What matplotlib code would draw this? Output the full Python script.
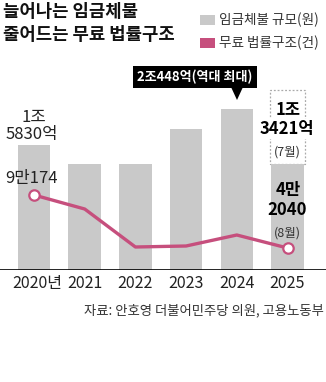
import matplotlib.pyplot as plt
import numpy as np
from matplotlib.patches import Rectangle

plt.rcParams['font.family'] = ['Noto Sans CJK KR', 'DejaVu Sans']

# data
years = ['2020년', '2021', '2022', '2023', '2024', '2025']
arrears = [15830, 13505, 13472, 17845, 20448, 13421]      # 억원
legal_aid = [90174, 77450, 42950, 43860, 53850, 42040]    # 건

bar_col = '#c9c9c9'
pink = '#c64f7d'

W, H = 326, 382
fig = plt.figure(figsize=(W / 100, H / 100), dpi=100)

def fx(px):
    return px / W

def fy(py):
    return 1 - py / H

base_px, top_px = 270, 60
ax = fig.add_axes([0, fy(base_px), 1, (base_px - top_px) / H])
x = np.arange(len(years))
step = 50.7
ax.set_xlim(-34 / step, (W - 34) / step)
ax.set_ylim(0, 20448 * 210 / 161)
ax.bar(x, arrears, width=0.64, color=bar_col, zorder=1)
ax.axhline(0, color='black', lw=1.2, zorder=3)
ax.axis('off')

ax2 = ax.twinx()
ax2.set_ylim(22060, 22060 + 210 * 908.2)
ax2.plot(x, legal_aid, color=pink, lw=2.4, zorder=4, solid_joinstyle='round')
ax2.plot([x[0], x[-1]], [legal_aid[0], legal_aid[-1]], 'o', ms=7.5,
         mfc='white', mec=pink, mew=1.6, zorder=5)
ax2.axis('off')

# dashed outline above 2025 bar
ax.add_patch(Rectangle((x[-1] - 0.34, arrears[-1]), 0.68, 22900 - arrears[-1],
                       fill=False, ec='#aaaaaa', lw=0.9, ls=(0, (1.5, 1.5)), zorder=0))

# year labels
for xi, lab in zip(x, years):
    ax.text(xi + (0.06 if xi == 0 else 0), -0.062, lab, transform=ax.get_xaxis_transform(),
            ha='center', va='center', fontsize=11.5, color='#222222')

# value labels
fig.text(fx(34), fy(117), '1조', ha='center', va='center', fontsize=12, color='#222222')
fig.text(fx(32), fy(134), '5830억', ha='center', va='center', fontsize=12, color='#222222')
fig.text(fx(32), fy(178), '9만174', ha='center', va='center', fontsize=12, color='#222222')

fig.text(fx(288), fy(110), '1조', ha='center', va='center', fontsize=12,
         fontweight='bold', color='black',
         bbox=dict(fc='white', ec='none', pad=0.5))
fig.text(fx(287), fy(129), '3421억', ha='center', va='center', fontsize=12,
         fontweight='bold', color='black',
         bbox=dict(fc='white', ec='none', pad=0.5))
fig.text(fx(287), fy(152), '(7월)', ha='center', va='center', fontsize=9, color='#333333',
         bbox=dict(fc='white', ec='none', pad=0.3))

fig.text(fx(288), fy(190), '4만', ha='center', va='center', fontsize=12,
         fontweight='bold', color='black')
fig.text(fx(287), fy(210), '2040', ha='center', va='center', fontsize=12,
         fontweight='bold', color='black')
fig.text(fx(287), fy(233), '(8월)', ha='center', va='center', fontsize=9, color='#333333')

# black callout for 2024
fig.patches.append(Rectangle((fx(133), fy(88)), fx(257) - fx(133), fy(66) - fy(88),
                             transform=fig.transFigure, fc='black', ec='none'))
fig.text(fx(195), fy(77), '2조448억(역대 최대)', ha='center', va='center', fontsize=9.4,
         fontweight='bold', color='white')
fig.patches.append(plt.Polygon([(fx(231), fy(87)), (fx(243), fy(87)), (fx(237), fy(100))],
                               transform=fig.transFigure, fc='black', ec='none'))

# title
fig.text(fx(3), fy(12), '늘어나는 임금체불', ha='left', va='center', fontsize=12.8,
         fontweight='bold', color='#111111')
fig.text(fx(3), fy(35), '줄어드는 무료 법률구조', ha='left', va='center', fontsize=12.8,
         fontweight='bold', color='#111111')

# legend
fig.patches.append(Rectangle((fx(200), fy(25)), fx(15), 10 / H, transform=fig.transFigure,
                             fc=bar_col, ec='none'))
fig.patches.append(Rectangle((fx(200), fy(48)), fx(15), 10 / H, transform=fig.transFigure,
                             fc=pink, ec='none'))
fig.text(fx(219), fy(20), '임금체불 규모(원)', ha='left', va='center', fontsize=9.8, color='#333333')
fig.text(fx(219), fy(43), '무료 법률구조(건)', ha='left', va='center', fontsize=9.8, color='#333333')

# source
fig.text(fx(324), fy(310), '자료: 안호영 더불어민주당 의원, 고용노동부', ha='right', va='center',
         fontsize=9.6, color='#333333')

fig.savefig('out.png', dpi=100)
